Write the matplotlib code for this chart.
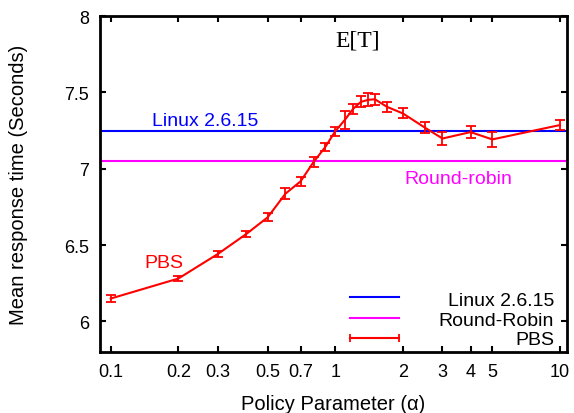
import matplotlib
matplotlib.use("Agg")
import matplotlib.pyplot as plt
from matplotlib.ticker import FixedLocator, FixedFormatter, NullLocator

# ---- data ----
alpha = [0.1, 0.2, 0.3, 0.4, 0.5, 0.6, 0.7, 0.8, 0.9, 1.0, 1.1, 1.2, 1.3, 1.4, 1.5, 1.7, 2.0, 2.5, 3, 4, 5, 10]
pbs_mean = [6.150, 6.281, 6.442, 6.571, 6.682, 6.837, 6.917, 7.044, 7.140, 7.246, 7.318, 7.392, 7.438, 7.451, 7.455,
            7.405, 7.362, 7.270, 7.198, 7.240, 7.192, 7.286]
pbs_err = [0.022, 0.017, 0.020, 0.020, 0.025, 0.035, 0.030, 0.033, 0.027, 0.030, 0.058, 0.033, 0.036, 0.043, 0.036,
           0.035, 0.033, 0.035, 0.041, 0.041, 0.049, 0.033]
linux_value = 7.244
rr_value = 7.048

xticks = [0.1, 0.2, 0.3, 0.5, 0.7, 1, 2, 3, 4, 5, 10]
xtick_labels = ["0.1", "0.2", "0.3", "0.5", "0.7", "1", "2", "3", "4", "5", "10"]
yticks = [6, 6.5, 7, 7.5, 8]
ytick_labels = ["6", "6.5", "7", "7.5", "8"]
legend_labels = ["Linux 2.6.15", "Round-Robin", "PBS"]

plt.rcParams['font.family'] = ['Liberation Sans', 'DejaVu Sans']

fig = plt.figure(figsize=(5.74, 4.14), dpi=100)
ax = fig.add_axes([0.1742, 0.1473, 0.8136, 0.8116])

ax.axhline(linux_value, color='#0000ff', lw=1.5, zorder=2)
ax.axhline(rr_value, color='#ff00ff', lw=1.5, zorder=2)
ax.errorbar(alpha, pbs_mean, yerr=pbs_err, color='#ff0000', lw=1.5, elinewidth=1.3,
            capsize=3.5, capthick=1.3, zorder=3)

ax.set_xscale('log')
ax.set_xlim(0.0896, 10.75)
ax.set_ylim(5.8, 8.0)
ax.xaxis.set_major_locator(FixedLocator(xticks))
ax.xaxis.set_major_formatter(FixedFormatter(xtick_labels))
ax.xaxis.set_minor_locator(NullLocator())
ax.set_yticks(yticks)
ax.set_yticklabels(ytick_labels)
ax.tick_params(axis='both', which='major', direction='in', length=4, width=1.5,
               labelsize=13, pad=8, top=True, right=True, colors='black')
for s in ax.spines.values():
    s.set_linewidth(2.0)

ax.set_xlabel("Policy Parameter (α)", fontsize=14.5)
ax.set_ylabel("Mean response time (Seconds)", fontsize=14.5)
ax.xaxis.set_label_coords(0.5, -0.125)
ax.yaxis.set_label_coords(-0.154, 0.5)

# Title inside axes
ax.text(0.5525, 0.9116, "E[T]", transform=ax.transAxes, ha='center', va='baseline',
        fontsize=17, family=['Liberation Serif', 'DejaVu Serif'])

# In-plot annotations
ax.text(0.263, 7.288, "Linux 2.6.15", color='#0000ff', ha='center', va='baseline', fontsize=14)
ax.text(3.52, 6.906, "Round-robin", color='#ff00ff', ha='center', va='baseline', fontsize=14)
ax.text(0.1723, 6.357, "PBS", color='#ff0000', ha='center', va='baseline', fontsize=14)

# Manual gnuplot-style legend (handle left, label right-aligned)
leg_colors = ['#0000ff', '#ff00ff', '#ff0000']
leg_line_y = [0.163, 0.101, 0.041]
leg_text_y = [0.140, 0.080, 0.024]
for i, (lab, c) in enumerate(zip(legend_labels, leg_colors)):
    if lab == "PBS":
        ax.plot([0.535, 0.641], [leg_line_y[i]] * 2, color=c, lw=1.5, marker='|', markersize=6,
                markeredgewidth=1.3, transform=ax.transAxes)
    else:
        ax.plot([0.535, 0.641], [leg_line_y[i]] * 2, color=c, lw=1.5, transform=ax.transAxes)
    ax.text(0.972, leg_text_y[i], lab, transform=ax.transAxes, ha='right', va='baseline', fontsize=14)

fig.savefig("out.png", dpi=100)
